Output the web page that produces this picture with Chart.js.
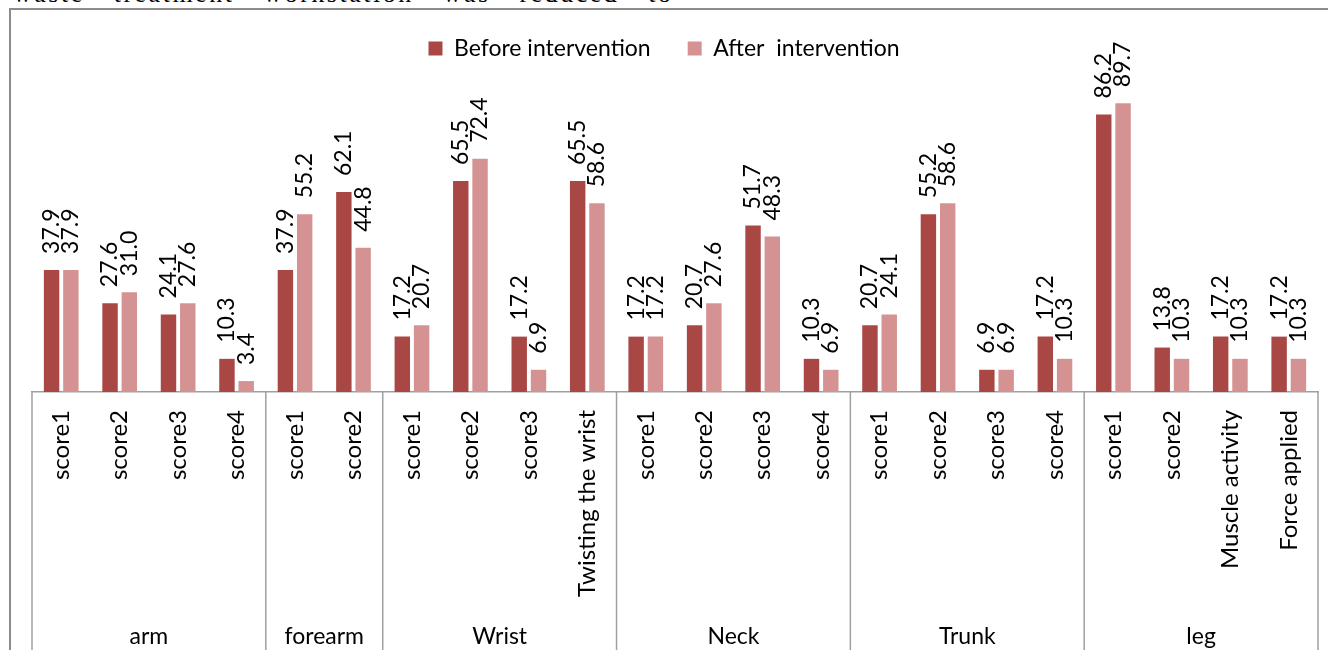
<!DOCTYPE html>
<html>
<head>
<meta charset="utf-8">
<script src="https://cdn.jsdelivr.net/npm/chart.js@4.4.1/dist/chart.umd.min.js"></script>
<style>
  html, body { margin: 0; padding: 0; background: #fff; overflow: hidden; }
  #wrap { position: relative; width: 1328px; height: 650px; }
  #pagetext {
    position: absolute; left: 13px; top: -19px; width: 640px;
    font: 26px "Liberation Serif", serif; line-height: 26px; color: #000;
    letter-spacing: 2.5px; word-spacing: 20px; white-space: nowrap;
  }
  #frame {
    position: absolute; left: 9px; top: 8px; width: 1400px; height: 700px;
    border: 2px solid #8c8c8c; pointer-events: none;
  }
  canvas { position: absolute; left: 0; top: 0; }
</style>
</head>
<body>
<div id="wrap">
  <div id="pagetext">waste treatment workstation was reduced to</div>
  <div id="frame"></div>
  <canvas id="grafico" width="1328" height="650"></canvas>
</div>
<script>
// categorias (eixo x) e grupos
const categorias = [
  "score1", "score2", "score3", "score4",
  "score1", "score2",
  "score1", "score2", "score3", "Twisting the wrist",
  "score1", "score2", "score3", "score4",
  "score1", "score2", "score3", "score4",
  "score1", "score2", "Muscle activity", "Force applied"
];
const grupos = ["arm", "forearm", "Wrist", "Neck", "Trunk", "leg"];
const tamanhoGrupos = [4, 2, 4, 4, 4, 4];

// valores
const antes = [37.9, 27.6, 24.1, 10.3, 37.9, 62.1, 17.2, 65.5, 17.2, 65.5, 17.2, 20.7, 51.7, 10.3, 20.7, 55.2, 6.9, 17.2, 86.2, 13.8, 17.2, 17.2];
const depois = [37.9, 31.0, 27.6, 3.4, 55.2, 44.8, 20.7, 72.4, 6.9, 58.6, 17.2, 27.6, 48.3, 6.9, 24.1, 58.6, 6.9, 10.3, 89.7, 10.3, 10.3, 10.3];

const fonte = "Lato, 'Noto Sans', sans-serif";
const tamFonte = 23;

// ROTULOS DE VALOR (girados)
const rotulosValor = {
  id: "rotulosValor",
  afterDatasetsDraw(chart) {
    const ctx = chart.ctx;
    ctx.save();
    ctx.fillStyle = "#000";
    ctx.font = tamFonte + "px " + fonte;
    ctx.textAlign = "left";
    ctx.textBaseline = "middle";
    chart.data.datasets.forEach(function (ds, d) {
      const meta = chart.getDatasetMeta(d);
      meta.data.forEach(function (bar, i) {
        ctx.save();
        ctx.translate(bar.x, bar.y - 16);
        ctx.rotate(-Math.PI / 2);
        ctx.fillText(ds.data[i].toFixed(1), 0, 0);
        ctx.restore();
      });
    });
    ctx.restore();
  }
};

// GRUPOS ABAIXO DO EIXO
const rotulosGrupo = {
  id: "rotulosGrupo",
  afterDraw(chart) {
    const ctx = chart.ctx;
    const x = chart.scales.x;
    const topo = x.top;
    const base = chart.height;
    ctx.save();
    ctx.strokeStyle = "#a0a0a0";
    ctx.lineWidth = 1.5;
    ctx.fillStyle = "#000";
    ctx.font = tamFonte + "px " + fonte;
    ctx.textAlign = "center";
    ctx.textBaseline = "middle";
    let inicio = 0;
    for (let g = 0; g <= grupos.length; g++) {
      const px = x.getPixelForValue(inicio - 0.5);
      ctx.beginPath();
      ctx.moveTo(px, topo);
      ctx.lineTo(px, base);
      ctx.stroke();
      if (g < grupos.length) {
        const fim = inicio + tamanhoGrupos[g];
        const meio = (x.getPixelForValue(inicio - 0.5) + x.getPixelForValue(fim - 0.5)) / 2;
        ctx.fillText(grupos[g], meio, 637);
        inicio = fim;
      }
    }
    ctx.restore();
  }
};

new Chart(document.getElementById("grafico"), {
  type: "bar",
  data: {
    labels: categorias,
    datasets: [
      {
        label: "Before intervention",
        data: antes,
        backgroundColor: "#a94745",
        categoryPercentage: 0.66,
        barPercentage: 0.8
      },
      {
        label: "After  intervention",
        data: depois,
        backgroundColor: "#d49392",
        categoryPercentage: 0.66,
        barPercentage: 0.8
      }
    ]
  },
  options: {
    responsive: false,
    animation: false,
    layout: { padding: 0 },
    plugins: {
      tooltip: { enabled: false },
      legend: {
        position: "top",
        labels: {
          color: "#000",
          font: { family: fonte, size: tamFonte },
          boxWidth: 14,
          boxHeight: 14,
          padding: 37
        }
      }
    },
    scales: {
      y: {
        display: false,
        min: 0,
        max: 100
      },
      x: {
        grid: { display: false, drawTicks: false },
        border: { display: true, color: "#a0a0a0", width: 1.5 },
        ticks: {
          autoSkip: false,
          maxRotation: 90,
          minRotation: 90,
          padding: 18,
          color: "#000",
          font: { family: fonte, size: 24 }
        },
        afterFit(scale) {
          scale.height = 258;
          scale.paddingRight = 10;
          scale.paddingLeft = 32;
        }
      }
    }
  },
  plugins: [rotulosValor, rotulosGrupo]
});
</script>
</body>
</html>
